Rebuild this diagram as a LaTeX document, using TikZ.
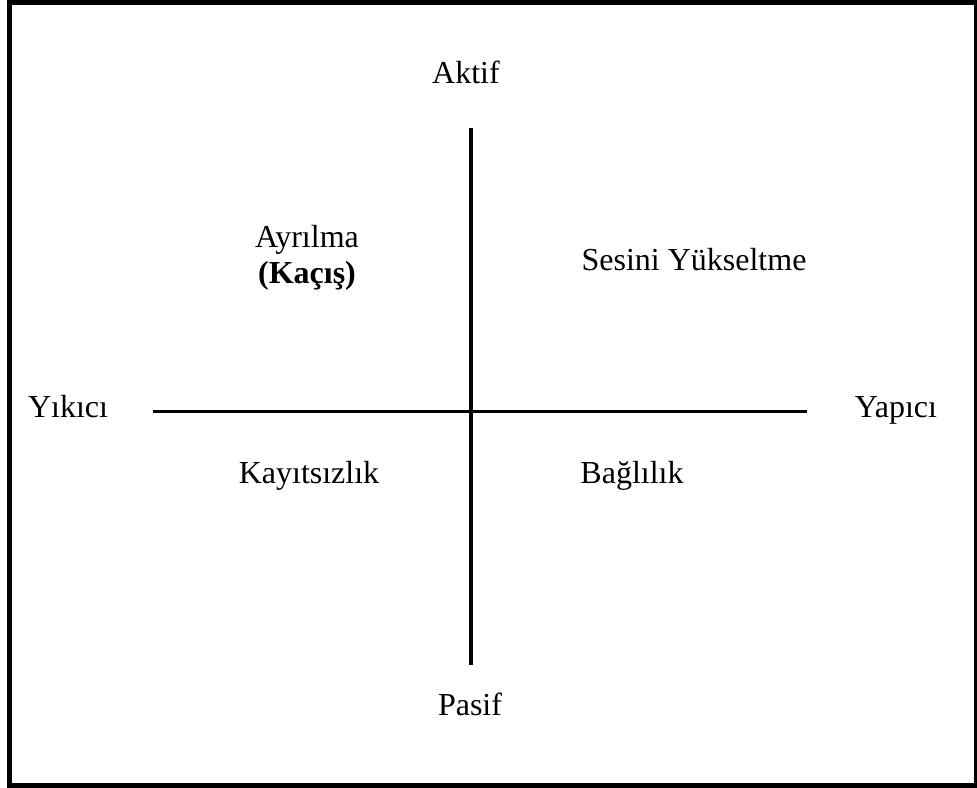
\documentclass[tikz,border=0pt]{standalone}
\usepackage{fontspec}
\setmainfont{Liberation Serif}
\usetikzlibrary{positioning}

\begin{document}
\begin{tikzpicture}[
    x=1pt, y=-1pt,
    axis/.style={line width=3.8pt},
    label/.style={font=\fontsize{32}{38}\selectfont, inner sep=0pt, anchor=base}
]
\useasboundingbox (0,0) rectangle (977,787);

% Outer frame
\draw[line width=5pt] (9.5,2.5) rectangle (976,785);

% Axis end points
\coordinate (top) at (471,128);
\coordinate (bottom) at (471,665);
\coordinate (left) at (153,411.5);
\coordinate (right) at (807,411.5);

% Axes
\draw[axis] (top) -- (bottom);
\draw[axis] (left) -- (right);

% Axis labels
\node[label] (aktif) at (466,83) {Aktif};
\node[label] (pasif) at (470,715) {Pasif};
\node[label] (yikici) at (68,417) {Yıkıcı};
\node[label] (yapici) at (896,417) {Yapıcı};

% Quadrant labels
\node[label] (ayrilma) at (307,247) {Ayrılma};
\node[label, font=\fontsize{32}{38}\selectfont\bfseries] (kacis) at (307,283) {(Kaçış)};
\node[label] (ses) at (694,270) {Sesini Yükseltme};
\node[label] (kayit) at (309,483) {Kayıtsızlık};
\node[label] (bagli) at (632,483) {Bağlılık};

\end{tikzpicture}
\end{document}
